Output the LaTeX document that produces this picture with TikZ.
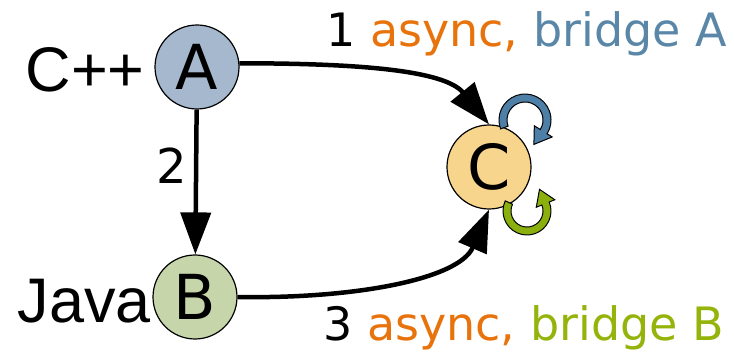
\documentclass[tikz,border=0pt]{standalone}
\usepackage{fontspec}
\setmainfont{DejaVu Sans}
\newfontfamily\arialfont{Liberation Sans}
\usetikzlibrary{arrows.meta}
\definecolor{nodeA}{HTML}{A5B8CD}
\definecolor{nodeB}{HTML}{C6D6AA}
\definecolor{nodeC}{HTML}{F8D58C}
\definecolor{asyncorange}{HTML}{E8730C}
\definecolor{bridgeblue}{HTML}{5A87A8}
\definecolor{bridgegreen}{HTML}{95B40B}
\definecolor{loopblue}{HTML}{4E7FA6}
\definecolor{loopgreen}{HTML}{8BB00E}
\begin{document}
\begin{tikzpicture}[x=1pt,y=1pt,
  vertex/.style={circle, draw=black, line width=1.2pt, minimum size=84pt, inner sep=0pt,
    font=\fontsize{62}{62}\selectfont},
  link/.style={line width=4.5pt, -{Triangle[length=42pt,width=30pt]}},
  lang/.style={font=\arialfont\fontsize{63}{63}\selectfont, inner sep=0pt},
  tag/.style={font=\fontsize{46}{46}\selectfont, inner sep=0pt},
  loopline/.style={draw=black, line width=1pt}]
\useasboundingbox (0,0) rectangle (734,351);

% the three threads
\node[vertex, fill=nodeA] (A) at (197,284) {A};
\node[vertex, fill=nodeB] (B) at (195,54) {B};
\node[vertex, fill=nodeC] (C) at (489,184) {C};

% language labels
\node[lang, anchor=base east] (cpp) at (145,259) {C++};
\node[lang, anchor=base east] (java) at (151,29) {Java};

% calls
\draw[link] (A) -- (B);
\draw[link] (A.5) .. controls +(120,0) and +(-44,54) .. (C.north);
\draw[link] (B.east) .. controls +(115,-2) and +(-30,-70) .. (C.south);

% edge labels
\node[tag] (l2) at (172,185) {\fontsize{48}{48}\selectfont 2};
\node[tag, anchor=base west] (l1) at (326,304)
  {1 \textcolor{asyncorange}{async,} \textcolor{bridgeblue}{bridge A}};
\node[tag, anchor=base west] (l3) at (323,11)
  {3 \textcolor{asyncorange}{async,} \textcolor{bridgegreen}{bridge B}};

% self loops on C
\begin{scope}[shift={(525,231)}]
  \filldraw[fill=loopblue, loopline]
    (200:26) arc[start angle=200, end angle=-32, radius=26]
    -- (-32:32) -- (-70:26) -- (-32:11) -- (-32:18)
    arc[start angle=-32, end angle=200, radius=18] -- cycle;
\end{scope}
\begin{scope}[shift={(527,140)}]
  \filldraw[fill=loopgreen, loopline]
    (155:24) arc[start angle=155, end angle=382, radius=24]
    -- (22:30) -- (60:25) -- (22:10) -- (22:16)
    arc[start angle=382, end angle=155, radius=16] -- cycle;
\end{scope}
\end{tikzpicture}
\end{document}
